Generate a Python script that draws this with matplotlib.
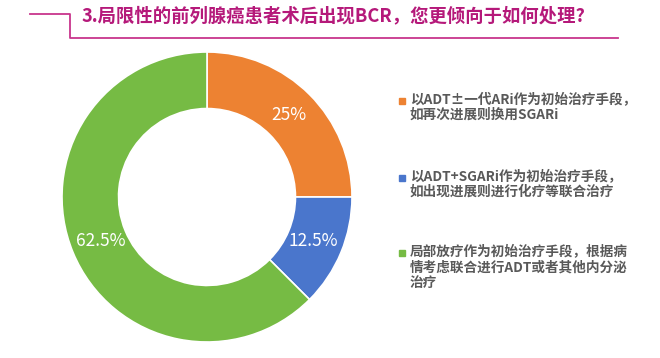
import matplotlib.pyplot as plt
from matplotlib.patches import Rectangle
from matplotlib.lines import Line2D

plt.rcParams['font.family'] = ['Noto Sans CJK SC', 'DejaVu Sans']

# 数据
title = '3.局限性的前列腺癌患者术后出现BCR，您更倾向于如何处理?'
labels = ['以ADT±一代ARi作为初始治疗手段，\n如再次进展则换用SGARi',
          '以ADT+SGARi作为初始治疗手段，\n如出现进展则进行化疗等联合治疗',
          '局部放疗作为初始治疗手段，根据病\n情考虑联合进行ADT或者其他内分泌\n治疗']
values = [25, 12.5, 62.5]
colors = ['#ED8232', '#4A76CC', '#76BB44']

W, H = 660, 358
fig = plt.figure(figsize=(W / 100, H / 100), dpi=100)

# 环形图
cx, cy, r = 207, 197, 145
ax = fig.add_axes([(cx - r) / W, (H - cy - r) / H, 2 * r / W, 2 * r / H])
wedges, _, autotexts = ax.pie(values, colors=colors, startangle=90, counterclock=False,
                              radius=1, autopct=lambda p: f'{p:g}%', pctdistance=0.795,
                              wedgeprops=dict(width=0.39, edgecolor='white', linewidth=1.2),
                              textprops=dict(color='white', fontsize=12.5))
ax.set_xlim(-1, 1)
ax.set_ylim(-1, 1)

# 标题和装饰线
fig.text(82 / W, 1 - 16 / H, title, color='#B5197A', fontsize=13.2, fontweight='bold',
         va='center', ha='left')
fig.add_artist(Line2D([30 / W, 70 / W, 70 / W, 618 / W],
                      [1 - 14 / H, 1 - 14 / H, 1 - 37.5 / H, 1 - 37.5 / H],
                      color='#C8358C', linewidth=1.3))

# 图例
ys = [101, 178, 253]
for lab, col, y in zip(labels, colors, ys):
    fig.add_artist(Rectangle((399 / W, 1 - (y + 3.3) / H), 6.5 / W, 6.5 / H, color=col))
    fig.text(410 / W, 1 - (y - 8.5) / H, lab, color='#595959', fontsize=9.8, fontweight='bold',
             va='top', ha='left', linespacing=1.15)

plt.savefig('out.png')
